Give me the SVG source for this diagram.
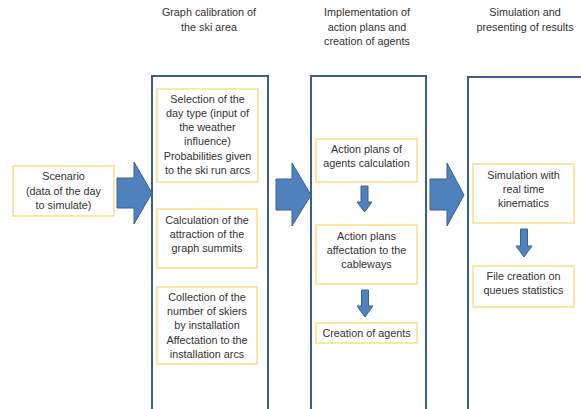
<svg xmlns="http://www.w3.org/2000/svg" width="581" height="409" viewBox="0 0 581 409">
<style>
text{font-family:"Liberation Sans",Arial,sans-serif;font-size:10.8px;fill:#333;text-anchor:middle}
.col{fill:#fff;stroke:#3a5f8f;stroke-width:2}
.box{fill:#fff;stroke:#fad56a;stroke-width:1.2}
.arr{fill:#4f81bd;stroke:#3a6294;stroke-width:1}
</style>
<rect width="581" height="409" fill="#fff"/>
<g id="titles">
<text x="209" y="16">Graph calibration of</text>
<text x="209" y="31">the ski area</text>
<text x="367" y="16">Implementation of</text>
<text x="367" y="30.5">action plans and</text>
<text x="367" y="44.5">creation of agents</text>
<text x="525" y="16">Simulation and</text>
<text x="525" y="31">presenting of results</text>
</g>
<g id="col1"><rect class="col" x="152" y="76" width="116" height="340"/></g>
<g id="col2"><rect class="col" x="311" y="76" width="115" height="340"/></g>
<g id="col3"><rect class="col" x="468" y="77" width="120" height="340"/></g>
<g id="scenario">
<rect class="box" x="13" y="166" width="101" height="50"/>
<text x="63.5" y="180">Scenario</text>
<text x="63.5" y="194.5">(data of the day</text>
<text x="63.5" y="209">to simulate)</text>
</g>
<g id="selection">
<rect class="box" x="157" y="89" width="101" height="93"/>
<text x="207.5" y="103">Selection of  the</text>
<text x="207.5" y="117">day type (input of</text>
<text x="207.5" y="131">the weather</text>
<text x="207.5" y="145">influence)</text>
<text x="207.5" y="159.5">Probabilities given</text>
<text x="207.5" y="174">to the ski run arcs</text>
</g>
<g id="attraction">
<rect class="box" x="157" y="209" width="100" height="59"/>
<text x="207" y="224">Calculation of the</text>
<text x="207" y="238">attraction of the</text>
<text x="207" y="252">graph summits</text>
</g>
<g id="collection">
<rect class="box" x="157" y="287" width="100" height="77"/>
<text x="207" y="301">Collection of the</text>
<text x="207" y="315">number of skiers</text>
<text x="207" y="329">by installation</text>
<text x="207" y="343.5">Affectation to the</text>
<text x="207" y="358">installation arcs</text>
</g>
<g id="actionplans">
<rect class="box" x="316" y="139" width="101" height="43"/>
<text x="366.5" y="153">Action plans of</text>
<text x="366.5" y="167">agents calculation</text>
</g>
<g id="affectation">
<rect class="box" x="316" y="225" width="101" height="59"/>
<text x="366.5" y="240">Action plans</text>
<text x="366.5" y="254">affectation to the</text>
<text x="366.5" y="268">cableways</text>
</g>
<g id="creation">
<rect class="box" x="316" y="323" width="101" height="20"/>
<text x="366.5" y="337">Creation of agents</text>
</g>
<g id="simulation">
<rect class="box" x="473" y="164" width="101" height="59"/>
<text x="523.5" y="179">Simulation with</text>
<text x="523.5" y="193">real time</text>
<text x="523.5" y="207">kinematics</text>
</g>
<g id="filecreation">
<rect class="box" x="473" y="266" width="101" height="41"/>
<text x="523.5" y="280">File creation on</text>
<text x="523.5" y="294">queues statistics</text>
</g>
<g id="connectors">
<path class="arr" d="M117,178 H134 V162 L152,193 L134,224 V208 H117 Z"/>
<path class="arr" d="M276,179 H292 V163 L311,195 L292,226 V210 H276 Z"/>
<path class="arr" d="M430,179 H447 V163 L464,195 L447,226 V210 H430 Z"/>
<path class="arr" d="M361,186 H368 V202 H372 L364.5,212 L357,202 H361 Z"/>
<path class="arr" d="M361.5,290 H368.5 V306 H373 L365,317 L357,306 H361.5 Z"/>
<path class="arr" d="M520.5,229 H527.5 V246 H532 L524,257 L516,246 H520.5 Z"/>
</g>
</svg>
